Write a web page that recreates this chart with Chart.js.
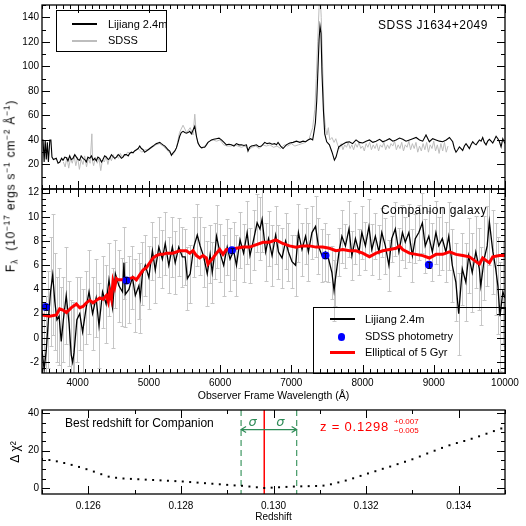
<!DOCTYPE html>
<html>
<head>
<meta charset="utf-8">
<script src="https://cdn.jsdelivr.net/npm/chart.js@4.4.1/dist/chart.umd.min.js"></script>
<style>
  body { margin: 0; background: #fff; }
  #wrap { position: relative; width: 526px; height: 526px; overflow: hidden; background: #fff;
          font-family: 'Liberation Sans', Arial, sans-serif; color: #000; }
  #wrap canvas { position: absolute; left: 0; top: 0; }
  .txt { position: absolute; white-space: nowrap; line-height: 1; }
  .box { position: absolute; border: 1px solid #000; box-sizing: border-box; }
  .ln { position: absolute; }
  .ylab { position: absolute; white-space: nowrap; line-height: 1; font-size: 12px; letter-spacing: 0.8px;
          transform: translate(-50%, -50%) rotate(-90deg); }
  .ylab sup, .ylab sub { font-size: 70%; }
</style>
</head>
<body>
<div id="wrap">
  <canvas id="topChart" width="526" height="526"></canvas>
  <canvas id="midChart" width="526" height="526"></canvas>
  <canvas id="chiChart" width="526" height="526"></canvas>

  <div class="box" style="left:56px; top:10px; width:111px; height:42px;"></div>
  <div class="ln" style="left:72px; top:23px; width:25px; height:1.5px; background:#000;"></div>
  <div class="txt" style="left:108px; top:18.5px; font-size:11px;">Lijiang 2.4m</div>
  <div class="ln" style="left:72px; top:39.7px; width:25px; height:2px; background:#bdbdbd;"></div>
  <div class="txt" style="left:108px; top:35.3px; font-size:11px;">SDSS</div>
  <div class="txt" style="left:378px; top:19px; font-size:12px; letter-spacing:0.5px;">SDSS J1634+2049</div>

  <div class="txt" style="left:381px; top:204px; font-size:12px; letter-spacing:0.4px;">Companion galaxy</div>
  <div class="box" style="left:313px; top:307px; width:193px; height:67px;"></div>
  <div class="ln" style="left:330px; top:318px; width:25px; height:2px; background:#000;"></div>
  <div class="txt" style="left:365px; top:313.9px; font-size:11px;">Lijiang 2.4m</div>
  <div class="ln" style="left:337.5px; top:333px; width:7.5px; height:7.5px; border-radius:50%; background:#0000ff;"></div>
  <div class="txt" style="left:365px; top:331.3px; font-size:11px;">SDSS photometry</div>
  <div class="ln" style="left:330px; top:351.2px; width:25px; height:3px; background:#ff0000;"></div>
  <div class="txt" style="left:365px; top:347.3px; font-size:11px;">Elliptical of 5 Gyr</div>
  <div class="ylab" style="left:11px; top:186px;">F<sub>λ</sub>&nbsp; (10<sup>−17</sup> ergs s<sup>−1</sup> cm<sup>−2</sup> Å<sup>−1</sup>)</div>

  <div class="txt" style="left:65px; top:417px; font-size:12px;">Best redshift for Companion</div>
  <div class="txt" style="left:320px; top:419.5px; font-size:13px; letter-spacing:0.8px; color:#ff0000;">z = 0.1298</div>
  <div class="txt" style="left:394px; top:417.5px; font-size:8px; color:#ff0000;">+0.007</div>
  <div class="txt" style="left:394px; top:427px; font-size:8px; color:#ff0000;">−0.005</div>
</div>

<script>
// ---- top panel: SDSS J1634+2049 ----
const topLjWave = [
  3500, 3515, 3530, 3545, 3560, 3575, 3590, 3610, 3625, 3640,
  3660, 3700, 3725, 3750, 3775, 3795, 3820, 3843, 3865, 3889,
  3910, 3935, 3960, 3983, 4005, 4029, 4050, 4076, 4100, 4122,
  4145, 4170, 4195, 4216, 4240, 4263, 4285, 4310, 4335, 4356,
  4380, 4404, 4430, 4450, 4475, 4497, 4520, 4545, 4570, 4591,
  4615, 4637, 4660, 4685, 4710, 4731, 4755, 4778, 4800, 4826,
  4850, 4872, 4895, 4919, 4940, 4966, 4990, 5012, 5035, 5059,
  5080, 5106, 5130, 5153, 5175, 5199, 5225, 5247, 5270, 5293,
  5317, 5340, 5365, 5387, 5410, 5433, 5455, 5480, 5505, 5527,
  5550, 5574, 5598, 5620, 5644, 5668, 5690, 5715, 5738, 5760,
  5784, 5808, 5830, 5855, 5878, 5910, 5948, 5985, 6019, 6055,
  6089, 6125, 6159, 6195, 6229, 6265, 6300, 6335, 6370, 6392,
  6415, 6440, 6475, 6510, 6545, 6580, 6627, 6660, 6697, 6730,
  6767, 6791, 6814, 6850, 6884, 6930, 6978, 7025, 7072, 7120,
  7165, 7200, 7235, 7270, 7300, 7320, 7338, 7357, 7375, 7390,
  7403, 7417, 7431, 7451, 7469, 7497, 7535, 7572, 7605, 7628,
  7666, 7722, 7770, 7816, 7860, 7909, 7955, 8003, 8050, 8097,
  8145, 8190, 8240, 8284, 8330, 8378, 8425, 8471, 8520, 8565,
  8610, 8659, 8705, 8752, 8800, 8845, 8891, 8938, 8985, 9032,
  9080, 9126, 9175, 9220, 9266, 9290, 9312, 9336, 9360, 9383,
  9406, 9430, 9453, 9477, 9500, 9523, 9547, 9570, 9594, 9617,
  9641, 9664, 9687, 9710, 9734, 9757, 9781, 9805, 9828, 9850,
  9875, 9900, 9922, 9945, 9969, 10000
];
const topLjFlux = [
  40, 40, 22, 40, 24, 38, 22, 40, 40, 26,
  24, 25, 21, 22, 25, 23.5, 26, 25.5, 23, 27,
  24, 25, 28, 26, 24, 23.5, 27, 25, 24, 22,
  26, 25, 27, 23.5, 25, 23, 26, 25, 22, 24,
  27, 26, 24, 25, 28, 26.5, 25, 26, 28, 27,
  25, 26, 28, 28, 27, 29, 30, 29.5, 31, 32,
  33, 35, 33, 32, 30, 31, 32, 33, 34, 35,
  36, 37, 37.5, 38, 37, 36, 35, 33.5, 32, 31,
  27.5, 29.5, 31, 33.5, 38, 43, 46, 47, 46, 45.5,
  46, 47, 45, 48, 51, 43, 37.5, 35, 33.5, 34,
  34, 36, 38, 39, 40, 40.5, 41, 41.5, 40, 38,
  36, 36.5, 36, 35, 37, 36, 36, 35.5, 36, 31,
  34, 35, 35.5, 36, 34.5, 35, 38, 37, 37.5, 36.5,
  37, 36, 38, 35, 33, 36, 37.5, 38, 39, 38,
  39, 38.5, 40, 41, 40, 47, 54, 72, 99, 122,
  133, 127, 94, 64, 45, 38.5, 36, 30, 23.5, 26,
  34.4, 36.5, 38, 38.5, 37, 40, 38, 37.5, 39, 40,
  38, 39, 40.5, 38.5, 39.5, 41, 39, 40, 41.5, 40.5,
  39, 40, 41, 42, 40, 39, 44, 38.5, 41, 40,
  39, 38.5, 40, 42, 38.5, 33, 30, 32, 34.4, 33,
  31.5, 35, 37, 35, 33, 36, 38.5, 37, 36, 38,
  40, 39, 42, 38, 36, 39, 40.5, 39, 37.5, 40,
  43, 41, 38.5, 34.4, 41, 37
];
const topSdssWave = [
  3800, 3825, 3850, 3875, 3900, 3925, 3950, 3975, 4000, 4025,
  4050, 4075, 4100, 4125, 4150, 4175, 4200, 4212, 4225, 4250,
  4275, 4300, 4325, 4350, 4375, 4400, 4425, 4450, 4475, 4500,
  4525, 4550, 4575, 4600, 4625, 4650, 4675, 4700, 4750, 4800,
  4850, 4900, 4950, 5000, 5050, 5100, 5150, 5200, 5250, 5300,
  5340, 5390, 5430, 5480, 5530, 5580, 5620, 5645, 5670, 5700,
  5750, 5800, 5850, 5900, 5950, 6000, 6050, 6100, 6150, 6200,
  6250, 6300, 6350, 6400, 6450, 6500, 6550, 6600, 6650, 6700,
  6750, 6800, 6850, 6900, 6950, 7000, 7050, 7100, 7150, 7200,
  7250, 7300, 7330, 7350, 7370, 7390, 7405, 7420, 7440, 7460,
  7480, 7500, 7520, 7540, 7570, 7600, 7625, 7650, 7675, 7700,
  7725, 7750, 7775, 7800, 7825, 7850, 7875, 7900, 7925, 7950,
  7975, 8000, 8025, 8050, 8075, 8100, 8125, 8150, 8175, 8200,
  8225, 8250, 8275, 8300, 8325, 8350, 8375, 8400, 8425, 8450,
  8475, 8500, 8525, 8550, 8575, 8600, 8625, 8650, 8675, 8700,
  8725, 8750, 8775, 8800, 8825, 8850, 8875, 8900, 8925, 8950,
  8975, 9000, 9025, 9050, 9075, 9100, 9125, 9150, 9175, 9200
];
const topSdssFlux = [
  22, 18, 26, 17, 25, 21, 27, 19, 26, 16,
  24, 20, 27, 18, 25, 21, 45, 22, 19, 26,
  21, 25, 15, 24, 22, 27, 20, 26, 23, 28,
  24, 27, 25, 29, 26, 28, 27, 30, 29, 31,
  33, 30, 32, 32, 34, 36, 37, 35, 32, 29,
  28, 34, 46, 52, 46, 50, 44, 61, 42, 36,
  33, 36, 39, 40, 39, 40, 36, 35, 35, 36,
  35, 34, 35, 32, 34, 35, 33, 36, 35, 36,
  34, 35, 33, 36, 35, 37, 35, 36, 37, 38,
  41, 50, 65, 90, 120, 148, 158, 140, 100, 62,
  50, 44, 50, 40, 42, 38, 41, 36, 33, 37,
  32, 36, 34, 38, 33, 36, 32, 37, 34, 38,
  33, 35, 31, 37, 34, 38, 32, 36, 33, 37,
  31, 36, 34, 38, 32, 36, 33, 37, 35, 39,
  32, 36, 33, 38, 31, 36, 34, 39, 32, 37,
  33, 38, 30, 35, 31, 37, 32, 38, 30, 36,
  33, 39, 31, 36, 29, 37, 31, 38, 30, 35
];

// ---- middle panel: companion galaxy ----
const midWave = [
  3500, 3530, 3560, 3590, 3620, 3650, 3680, 3710, 3740, 3770,
  3800, 3840, 3880, 3910, 3930, 3950, 3990, 4030, 4070, 4120,
  4160, 4210, 4260, 4300, 4350, 4400, 4440, 4490, 4530, 4580,
  4630, 4650, 4670, 4720, 4770, 4810, 4860, 4880, 4910, 4950,
  5000, 5050, 5090, 5140, 5190, 5230, 5280, 5330, 5370, 5420,
  5470, 5510, 5540, 5580, 5630, 5680, 5720, 5770, 5820, 5860,
  5890, 5930, 5950, 6000, 6050, 6100, 6140, 6190, 6230, 6280,
  6330, 6380, 6420, 6470, 6520, 6560, 6590, 6640, 6680, 6730,
  6780, 6820, 6870, 6920, 6960, 7010, 7060, 7100, 7150, 7200,
  7240, 7290, 7340, 7380, 7430, 7480, 7520, 7570, 7600, 7620,
  7670, 7710, 7760, 7810, 7850, 7900, 7950, 7990, 8040, 8090,
  8130, 8180, 8230, 8270, 8320, 8370, 8410, 8460, 8510, 8560,
  8600, 8650, 8700, 8740, 8790, 8840, 8880, 8930, 8980, 9030,
  9070, 9120, 9170, 9210, 9260, 9310, 9350, 9400, 9450, 9490,
  9540, 9590, 9640, 9660, 9710, 9750, 9780, 9830, 9870, 9900,
  9930, 9970, 10000
];
const midFlux = [
  -1.0, -2.6, -1.0, 1.5, 3.8, 5.2, 3.0, 1.5, 1.8, -0.3,
  1.5, 3.5, 1.2, -1.4, -2.0, -1.2, 1.5, 2.0, 0.5, 2.5,
  3.8, 2.0, 3.3, 1.0, 3.8, 2.8, 4.8, 2.5, 5.3, 4.3,
  3.8, 6.2, 3.6, 4.0, 5.0, 3.5, 4.3, 3.3, 5.3, 6.0,
  5.0, 7.2, 5.6, 7.5, 6.5, 7.8, 6.0, 7.5, 6.2, 7.5,
  6.7, 6.7, 4.9, 5.3, 7.5, 8.5, 7.6, 6.7, 5.3, 6.9,
  5.4, 7.2, 8.4, 7.0, 6.0, 7.5, 6.5, 7.2, 6.0, 8.1,
  7.0, 8.7, 6.8, 8.1, 9.5, 9.0, 9.8, 7.1, 8.2, 6.8,
  8.5, 7.1, 6.6, 8.0, 7.1, 6.3, 6.0, 8.7, 7.3, 8.4,
  7.1, 8.7, 9.2, 7.6, 6.8, 7.1, 6.6, 5.4, 3.9, 4.9,
  7.1, 8.4, 7.6, 9.0, 6.8, 8.2, 7.1, 8.7, 7.6, 9.2,
  7.3, 8.4, 7.1, 8.7, 7.6, 6.0, 8.2, 9.0, 7.1, 8.7,
  7.9, 8.7, 6.8, 8.2, 8.7, 9.5, 7.6, 8.4, 7.1, 8.7,
  7.6, 8.2, 7.1, 8.4, 6.0, 4.6, 2.0, 5.7, 4.6, 6.8,
  5.4, 7.1, 5.7, 4.3, 6.6, 7.6, 9.6, 7.1, 5.7, 4.3,
  1.8, 3.8, 3.3
];
const midErr = [
  5.0, 5.5, 4.5, 4.0, 4.5, 5.0, 4.0, 3.5, 4.0, 4.5,
  3.5, 4.0, 3.5, 4.5, 5.0, 4.0, 3.5, 3.0, 3.5, 3.0,
  3.5, 3.0, 3.2, 3.5, 3.0, 3.2, 3.0, 3.3, 2.8, 3.0,
  2.8, 3.0, 2.7, 2.8, 2.6, 3.0, 2.7, 2.9, 2.6, 2.5,
  2.6, 2.4, 2.7, 2.5, 2.4, 2.6, 2.3, 2.5, 2.6, 2.4,
  2.5, 2.3, 2.6, 2.4, 2.5, 2.6, 2.4, 2.5, 2.7, 2.4,
  2.5, 2.3, 2.6, 2.4, 2.5, 2.3, 2.6, 2.4, 2.5, 2.3,
  2.4, 2.6, 2.3, 2.5, 2.4, 2.6, 2.7, 2.4, 2.3, 2.5,
  2.4, 2.2, 2.5, 2.3, 2.4, 2.2, 2.5, 2.4, 2.2, 2.3,
  2.4, 2.2, 2.5, 2.3, 2.2, 2.4, 2.0, 2.2, 2.5, 2.3,
  2.0, 2.2, 1.8, 2.3, 2.0, 2.1, 1.9, 2.2, 2.0, 2.3,
  2.1, 1.9, 2.2, 2.0, 2.3, 2.1, 1.9, 2.2, 2.0, 2.3,
  2.1, 2.4, 2.2, 2.0, 2.3, 2.5, 2.2, 2.1, 2.4, 2.6,
  2.4, 2.6, 2.5, 2.8, 3.0, 3.2, 3.4, 3.0, 3.2, 3.1,
  3.3, 3.0, 3.4, 3.2, 3.5, 3.3, 3.6, 3.5, 3.8, 4.0,
  4.5, 4.2, 4.0
];
const modelWave = [
  3500, 3608, 3702, 3748, 3795, 3843, 3913, 3983, 4029, 4076,
  4123, 4170, 4216, 4264, 4310, 4356, 4404, 4430, 4450, 4475,
  4497, 4521, 4545, 4567, 4615, 4661, 4731, 4778, 4825, 4872,
  4918, 4966, 5012, 5058, 5106, 5153, 5199, 5247, 5339, 5433,
  5527, 5574, 5620, 5668, 5714, 5760, 5808, 5831, 5855, 5901,
  5949, 5995, 6041, 6089, 6135, 6229, 6322, 6416, 6510, 6603,
  6693, 6785, 6879, 6973, 7066, 7160, 7254, 7347, 7441, 7535,
  7628, 7722, 7816, 7909, 8003, 8097, 8190, 8284, 8378, 8471,
  8518, 8564, 8658, 8751, 8845, 8939, 9032, 9126, 9220, 9313,
  9407, 9501, 9593, 9641, 9687, 9781, 9828, 9922, 10000
];
const modelFlux = [
  1.9, 1.8, 1.9, 2.4, 2.3, 2.1, 2.5, 2.8, 2.5, 2.6,
  2.9, 3.1, 2.9, 3.1, 3.3, 3.2, 3.5, 3.0, 3.8, 3.2,
  4.7, 4.2, 4.9, 4.8, 4.8, 4.8, 4.9, 5.0, 4.8, 5.2,
  5.6, 5.8, 6.2, 6.6, 6.8, 6.9, 6.9, 7.0, 7.0, 7.2,
  7.2, 7.0, 7.2, 6.8, 6.6, 6.8, 6.6, 6.1, 6.3, 6.6,
  7.0, 7.3, 6.9, 7.3, 7.3, 7.4, 7.5, 7.5, 7.7, 7.9,
  7.9, 8.1, 7.8, 7.6, 7.5, 7.6, 7.6, 7.5, 7.5, 7.4,
  7.2, 7.3, 7.2, 7.2, 7.0, 6.7, 7.0, 7.2, 7.3, 7.4,
  7.6, 7.3, 7.0, 6.9, 6.8, 6.6, 6.9, 6.9, 7.1, 6.9,
  6.8, 6.7, 6.3, 6.1, 6.6, 6.2, 6.7, 6.8, 6.8
];
const photWave = [3551, 4686, 6166, 7480, 8932];
const photFlux = [2.55, 4.75, 7.25, 6.8, 6.05];
const photErr = [0.25, 0.25, 0.2, 0.2, 0.25];

// ---- bottom panel: delta chi^2 vs redshift ----
const chiZ = [
  0.12500, 0.12516, 0.12532, 0.12548, 0.12564, 0.12580, 0.12596, 0.12612, 0.12628, 0.12644,
  0.12660, 0.12676, 0.12692, 0.12708, 0.12724, 0.12740, 0.12756, 0.12772, 0.12788, 0.12804,
  0.12820, 0.12836, 0.12852, 0.12868, 0.12884, 0.12900, 0.12916, 0.12932, 0.12948, 0.12964,
  0.12980, 0.12996, 0.13012, 0.13028, 0.13044, 0.13060, 0.13076, 0.13092, 0.13108, 0.13124,
  0.13140, 0.13156, 0.13172, 0.13188, 0.13204, 0.13220, 0.13236, 0.13252, 0.13268, 0.13284,
  0.13300, 0.13316, 0.13332, 0.13348, 0.13364, 0.13380, 0.13396, 0.13412, 0.13428, 0.13444,
  0.13460, 0.13476, 0.13492
];
const chiVal = [
  15.6, 15.0, 14.3, 13.4, 12.4, 11.3, 10.1, 8.8, 7.4, 6.1,
  5.5, 5.1, 4.9, 4.7, 4.5, 4.3, 4.1, 3.9, 3.7, 3.5,
  3.2, 2.9, 2.6, 2.3, 2.0, 1.7, 1.4, 1.2, 0.8, 0.4,
  0.0, 0.2, 0.4, 0.6, 0.8, 0.9, 1.0, 1.1, 1.3, 2.0,
  3.0, 4.0, 5.2, 6.5, 7.8, 9.0, 10.3, 11.5, 12.8, 14.1,
  15.4, 16.9, 18.5, 20.0, 21.5, 22.9, 24.1, 25.2, 26.4, 27.7,
  29.1, 30.5, 31.9
];
const zBest = 0.1298;
const zLow = 0.1293;
const zHigh = 0.1305;

// tick labels
const waveTicks = [4000, 5000, 6000, 7000, 8000, 9000, 10000];
const topYTicks = [20, 40, 60, 80, 100, 120, 140];
const midYTicks = [-2, 0, 2, 4, 6, 8, 10, 12];
const chiXTicks = [0.126, 0.128, 0.130, 0.132, 0.134];
const chiYTicks = [0, 20, 40];

Chart.defaults.font.family = "'Liberation Sans', Arial, sans-serif";
Chart.defaults.color = '#000';

const pts = (xs, ys) => xs.map((v, i) => ({ x: v, y: ys[i] }));

const fixY = (w) => (s) => { s.width = w; s.paddingTop = 0; s.paddingBottom = 0; };
const fixX = (h) => (s) => { s.height = h; s.paddingLeft = 0; s.paddingRight = 0; };
const setTicks = (values) => (s) => { s.ticks = values.map((v) => ({ value: v })); };

function stepValues(min, max, step) {
  const out = [];
  for (let k = Math.ceil(min / step - 1e-6); k <= Math.floor(max / step + 1e-6); k++) out.push(k * step);
  return out;
}

// IDL style frame with inward ticks on all four sides
const idlAxes = {
  id: 'idlAxes',
  afterDatasetsDraw(chart, args, o) {
    const { ctx, chartArea: a } = chart;
    const x = chart.scales.x, y = chart.scales.y;
    ctx.save();
    ctx.strokeStyle = '#000';
    ctx.lineWidth = 1;
    ctx.beginPath();
    const tickX = (v, len) => {
      const p = Math.round(x.getPixelForValue(v)) + 0.5;
      ctx.moveTo(p, a.bottom); ctx.lineTo(p, a.bottom - len);
      ctx.moveTo(p, a.top); ctx.lineTo(p, a.top + len);
    };
    const tickY = (v, len) => {
      const p = Math.round(y.getPixelForValue(v)) + 0.5;
      ctx.moveTo(a.left, p); ctx.lineTo(a.left + len, p);
      ctx.moveTo(a.right, p); ctx.lineTo(a.right - len, p);
    };
    stepValues(x.min, x.max, o.xMinor).forEach((v) => tickX(v, 4));
    stepValues(y.min, y.max, o.yMinor).forEach((v) => tickY(v, 4));
    o.xMajor.forEach((v) => tickX(v, 8));
    o.yMajor.forEach((v) => tickY(v, 8));
    ctx.stroke();
    ctx.lineWidth = 1.3;
    ctx.strokeRect(a.left, a.top, a.width, a.height);
    ctx.restore();
  }
};

function drawErrors(chart, onTop) {
  const { ctx, chartArea: a, scales: { x, y } } = chart;
  ctx.save();
  ctx.beginPath();
  ctx.rect(a.left, a.top, a.width, a.height);
  ctx.clip();
  chart.data.datasets.forEach((ds) => {
    if (!ds.errors || !!ds.errorsOnTop !== onTop) return;
    ctx.strokeStyle = ds.errorColor;
    ctx.lineWidth = 1;
    ctx.beginPath();
    ds.data.forEach((p, i) => {
      const e = ds.errors[i];
      if (e == null) return;
      const px = Math.round(x.getPixelForValue(p.x)) + 0.5;
      const y1 = Math.round(y.getPixelForValue(p.y + e)) + 0.5;
      const y2 = Math.round(y.getPixelForValue(p.y - e)) + 0.5;
      ctx.moveTo(px, y1); ctx.lineTo(px, y2);
      ctx.moveTo(px - ds.errorCap, y1); ctx.lineTo(px + ds.errorCap, y1);
      ctx.moveTo(px - ds.errorCap, y2); ctx.lineTo(px + ds.errorCap, y2);
    });
    ctx.stroke();
  });
  ctx.restore();
}

const errorBars = {
  id: 'errorBars',
  beforeDatasetsDraw(chart) { drawErrors(chart, false); },
  afterDatasetsDraw(chart) { drawErrors(chart, true); }
};

// best redshift, 1 sigma range and arrows
const redshiftMarks = {
  id: 'redshiftMarks',
  beforeDatasetsDraw(chart) {
    const { ctx, chartArea: a, scales: { x, y } } = chart;
    const xb = x.getPixelForValue(zBest);
    const xl = x.getPixelForValue(zLow);
    const xh = x.getPixelForValue(zHigh);
    const ya = y.getPixelForValue(31.3);
    const ys = y.getPixelForValue(35);
    ctx.save();
    ctx.strokeStyle = '#4f9f6f';
    ctx.lineWidth = 1.3;
    ctx.setLineDash([6, 4]);
    ctx.beginPath();
    [xl, xh].forEach((px) => { ctx.moveTo(px, a.top); ctx.lineTo(px, a.bottom); });
    ctx.stroke();
    ctx.setLineDash([]);
    ctx.strokeStyle = '#ff0000';
    ctx.lineWidth = 1.5;
    ctx.beginPath();
    ctx.moveTo(xb, a.top); ctx.lineTo(xb, a.bottom);
    ctx.stroke();
    ctx.strokeStyle = '#2e8b57';
    ctx.fillStyle = '#2e8b57';
    ctx.lineWidth = 1.2;
    [xl, xh].forEach((px) => {
      const d = px < xb ? -1 : 1;
      ctx.beginPath();
      ctx.moveTo(xb, ya); ctx.lineTo(px, ya);
      ctx.moveTo(px - d * 5, ya - 3); ctx.lineTo(px, ya); ctx.lineTo(px - d * 5, ya + 3);
      ctx.stroke();
    });
    ctx.font = "italic 13px 'DejaVu Sans'";
    ctx.textAlign = 'center';
    ctx.textBaseline = 'middle';
    ctx.fillText('σ', (xl + xb) / 2, ys);
    ctx.fillText('σ', (xh + xb) / 2, ys);
    ctx.restore();
  }
};

const common = (padding, scales, axes) => ({
  responsive: false,
  animation: false,
  devicePixelRatio: 1,
  events: [],
  layout: { padding },
  plugins: { legend: { display: false }, tooltip: { enabled: false }, idlAxes: axes },
  scales
});

const yAxis = (min, max, ticks, extra) => Object.assign({
  type: 'linear', min, max,
  afterFit: fixY(42),
  afterBuildTicks: setTicks(ticks),
  grid: { display: false, drawTicks: false },
  border: { display: false },
  ticks: { padding: 3, font: { size: 10 }, autoSkip: false }
}, extra || {});

new Chart(document.getElementById('topChart'), {
  type: 'line',
  data: {
    datasets: [
      { label: 'Lijiang 2.4m', data: pts(topLjWave, topLjFlux), borderColor: '#000', borderWidth: 1.1,
        pointRadius: 0, tension: 0, order: 0 },
      { label: 'SDSS', data: pts(topSdssWave, topSdssFlux), borderColor: '#bdbdbd', borderWidth: 1,
        pointRadius: 0, tension: 0, order: 1 }
    ]
  },
  options: common({ left: 0, top: 5, right: 21, bottom: 337 }, {
    x: { type: 'linear', min: 3500, max: 10000, display: false },
    y: yAxis(0, 150, topYTicks)
  }, { xMajor: waveTicks, xMinor: 100, yMajor: topYTicks, yMinor: 10 }),
  plugins: [idlAxes]
});

new Chart(document.getElementById('midChart'), {
  type: 'line',
  data: {
    datasets: [
      { label: 'SDSS photometry', data: pts(photWave, photFlux), showLine: false, pointRadius: 4,
        pointBackgroundColor: '#0000ff', pointBorderColor: '#0000ff', pointBorderWidth: 0, order: 0,
        errors: photErr, errorColor: '#000044', errorCap: 2, errorsOnTop: true },
      { label: 'Elliptical of 5 Gyr', data: pts(modelWave, modelFlux), borderColor: '#ff0000', borderWidth: 3,
        pointRadius: 0, tension: 0, order: 1 },
      { label: 'Lijiang 2.4m', data: pts(midWave, midFlux), borderColor: '#000', borderWidth: 1.3,
        pointRadius: 0, tension: 0, order: 2, errors: midErr, errorColor: '#c6c6c6', errorCap: 2 }
    ]
  },
  options: common({ left: 0, top: 189, right: 21, bottom: 124 }, {
    x: {
      type: 'linear', min: 3500, max: 10000,
      afterFit: fixX(29),
      afterBuildTicks: setTicks(waveTicks),
      grid: { display: false, drawTicks: false },
      border: { display: false },
      ticks: { padding: 4, font: { size: 10 }, autoSkip: false, maxRotation: 0, callback: (v) => String(v) },
      title: { display: true, text: 'Observer Frame Wavelength (Å)', font: { size: 10.5 }, padding: 0 }
    },
    y: yAxis(-2.9, 12.3, midYTicks)
  }, { xMajor: waveTicks, xMinor: 100, yMajor: midYTicks, yMinor: 0.5 }),
  plugins: [errorBars, idlAxes]
});

new Chart(document.getElementById('chiChart'), {
  type: 'scatter',
  data: {
    datasets: [
      { label: 'Delta chi2', data: pts(chiZ, chiVal), showLine: false, pointStyle: 'rect', pointRadius: 1.4,
        pointBackgroundColor: '#000', pointBorderWidth: 0 }
    ]
  },
  options: common({ left: 0, top: 410, right: 21, bottom: 3 }, {
    x: {
      type: 'linear', min: 0.125, max: 0.135,
      afterFit: fixX(29),
      afterBuildTicks: setTicks(chiXTicks),
      grid: { display: false, drawTicks: false },
      border: { display: false },
      ticks: { padding: 6, font: { size: 10 }, autoSkip: false, maxRotation: 0, callback: (v) => v.toFixed(3) },
      title: { display: true, text: 'Redshift', font: { size: 10 }, padding: 0 }
    },
    y: yAxis(-3.2, 41.8, chiYTicks, {
      title: { display: true, text: 'Δ χ²', font: { size: 12 }, padding: { top: 8, bottom: 0 } }
    })
  }, { xMajor: chiXTicks, xMinor: 0.001, yMajor: chiYTicks, yMinor: 5 }),
  plugins: [redshiftMarks, idlAxes]
});
</script>
</body>
</html>
